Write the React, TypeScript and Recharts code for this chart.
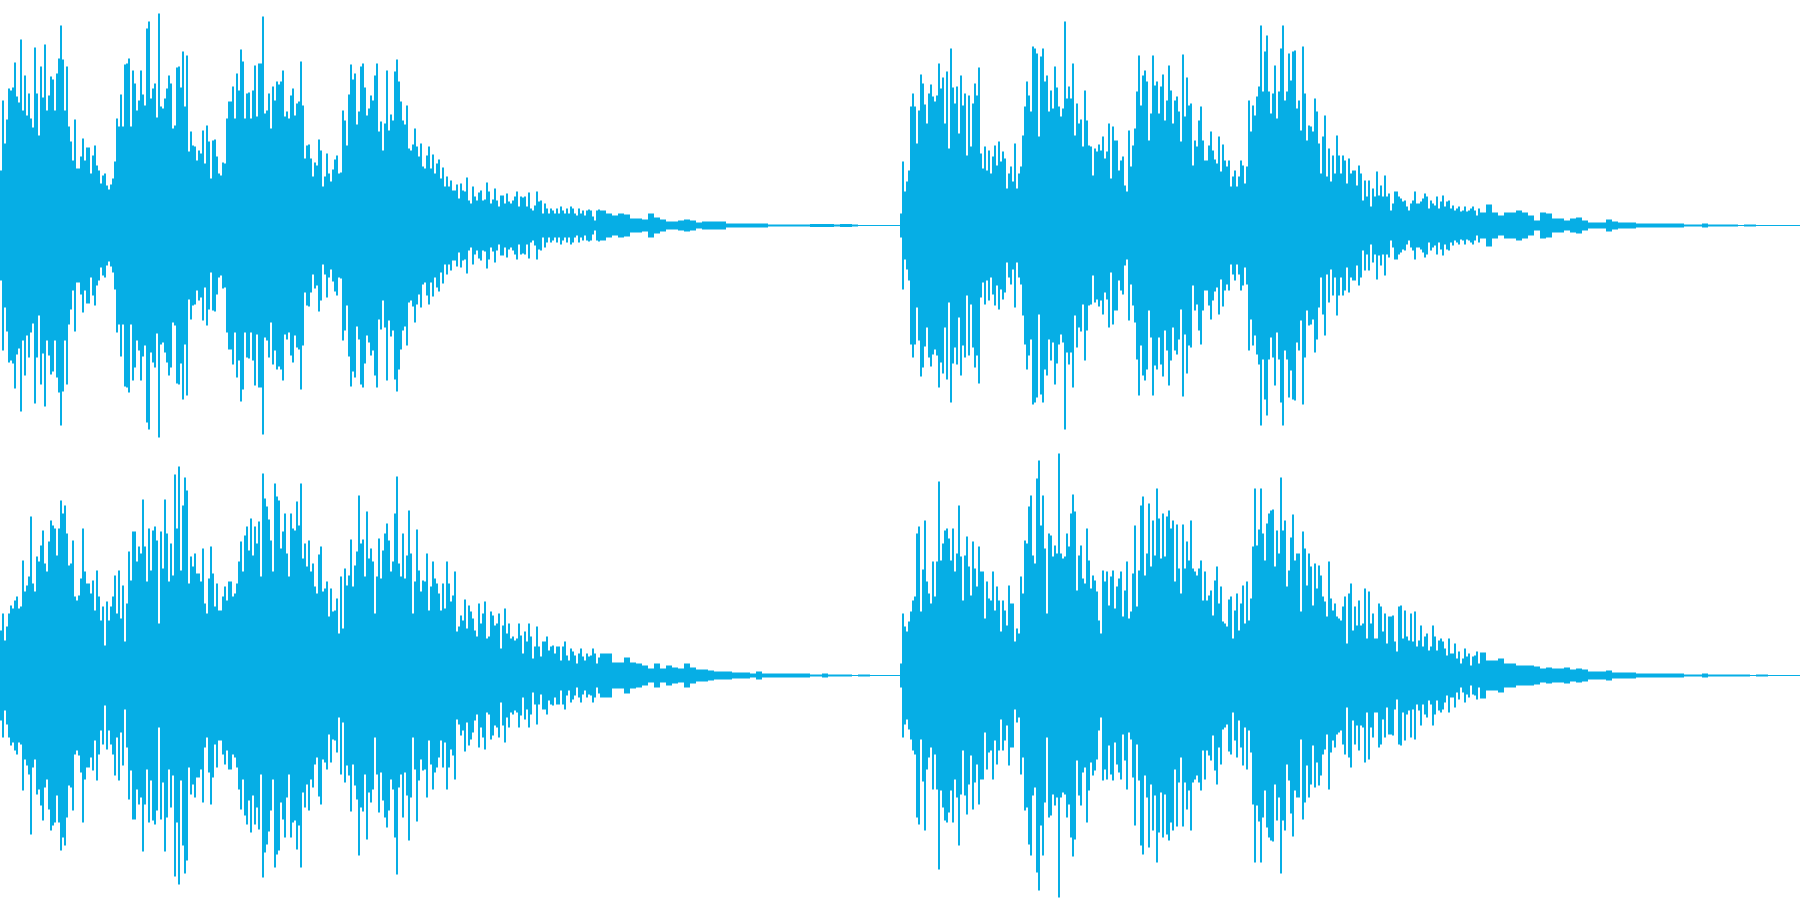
import React from "react";
import { BarChart, Bar, XAxis, YAxis } from "recharts";

const WAVE_COLOR = "#06aee5";

// Peak amplitude, one value per 2 px column.
const topLeftAttack = [55,125,82,106,137,135,138,163,129,123,186,115,150,110,132,107,98,178,132,90,159,128,181,115,130,149,146,115,152,167,200,166,115,159,99,84,65,106,57,57,69,87,65,78,78,52,70,80,60,55,42,50,52,40,36,41,47,64,107,99,131,99,161,162,167,99,155,142,115,125,155,131,120,197,204,127,137,142,108,212,119,117,127,137,150,142,97,100,158,159,138,174,119,170,74,94,80,79,65,75,72,95,62,100,84,47,85,86,69,52,50,63,62,107,124,124,139,107,152,135,176,164,107,132,133,107,135,160,109,162,162,209,112,115,132,97,139,125,144,141,144,155,109,114,107,130,137,110,122,124];
const topLeftDecay = [164,120,67,80,81,67,49,63,60,86,75,39,49,72,52,44,56,66,70,52,53,115,105,80,131,161,146,152,101,114,159,162,138,110,117,130,125,150,162,94,104,75,102,155,95,111,105,154,166,144,124,105,101,120,77,75,81,97,79,69,82,59,57,70,79,57,71,52,62,66,47,58,39,49,39,45,35,35,41,27,42,35,34,48,25,22,39,29,25,33,35,25,26,43,34,22,26,37,25,19,30,30,22,32,24,22,25,29,34,19,29,28,29,19,33,17,15,20,34,24,25,12,22,17,12,17,15,12,17,12,19,15,12,17,12,19,17,12,10,17,12,15,10,15,16,15,9,5,15,16];
const topLeftTail = [15,12,10,12,11,7,7,6,12,8,6,4,4,5,6,5,3,4,4,4,4,2,2,2,2,2,2,2,1,1,1,1,1,1,1,1.5,1.5,1.5,1.5,1,1.5,1.5,1,0.5,0.5,0.5,0.5,0.5,0.5,0.5];

const topRightAttack = [12,64,34,44,55,119,132,119,82,115,151,142,121,102,132,141,129,124,130,162,137,148,102,154,77,177,138,122,139,92,150,120,132,70,130,79,122,142,130,158,72,57,79,55,75,52,69,80,60,84,64,74,67,37,52,59,44,82,37,52,59,90,119,144,130,114,179,177,172,89,169,177,144,150,114,135,117,159,138,119,109,117,204,127,139,127,162,90,122,102,106,79,135,105,80,79,50,77,74,81,75,89,67,74,102,47,99,85,85,55,65,69,40,34,95,59,80,97,134,170,120,150,155,144,85,112,170,140,144,112,139,151,105,125,160,135,102,125,129,114];
const topRightDecay = [84,171,109,148,120,122,60,85,79,105,119,85,65,65,80,94,75,66,62,89,54,81,65,59,65,39,49,55,39,49,65,60,42,59,125,94,120,110,129,139,200,134,174,190,134,112,132,160,107,134,177,200,125,134,172,145,174,175,117,125,95,179,132,85,100,99,94,127,114,82,52,89,110,49,77,44,70,52,90,70,52,70,65,42,67,52,55,55,40,60,52,25,45,29,45,19,37,29,54,30,40,29,50,29,32,15,22,34,34,29,27,24,25,19,15,22,25,34,22,22,24,27,32,29,17,25,22,20,29,17,24,30,19,24,25,17,20,15,17,19,14,15,19,14,15,17,19,15,10,17];
const topRightTail = [13,21,13,10,13,13,15,13,10,5,13,12,7,7,5,7,8,5,3,3,3,6,4,3,3,3,2,2,2,2,2,2,2,2,1,1,1,2,1,1,1,1,1,0.5,1,1,0.5,0.5,0.5,0.5,0.5,0.5,0.5,0.5];

const bottomLeftAttack = [45,62,35,49,62,70,67,75,79,67,69,115,84,90,99,159,92,84,119,114,130,145,112,104,134,155,150,147,120,147,175,162,170,142,110,112,135,79,75,80,97,147,104,92,92,82,95,65,105,79,55,69,30,74,55,69,79,100,62,105,57,90,34,72,124,95,144,144,114,129,122,176,129,94,147,105,145,149,135,52,144,107,176,142,94,132,100,201,147,209,105,170,198,185,92,119,109,122,102,102,94,127,72,62,97,129,102,69,92,65,65,79,89,75,94,94,79,82,92,114,134,104,140,149,125,157,120,149,132,154,99,202,177,169,156,135,104,192,179,175,127,144,162,122,99,162,147,145,174,150];
const bottomLeftDecay = [192,117,132,109,135,104,112,89,82,121,129,84,87,94,59,87,64,65,77,42,99,47,107,90,100,136,89,110,124,180,132,136,99,164,117,127,114,62,99,137,97,125,142,152,135,104,114,162,199,112,99,142,97,120,165,122,62,94,146,105,84,95,94,122,65,89,114,97,92,82,65,92,67,114,92,74,80,104,44,49,60,55,76,47,70,64,57,45,39,72,52,62,74,37,39,64,60,50,52,62,27,50,67,42,52,37,39,35,37,52,40,22,44,34,52,39,17,29,49,29,19,34,34,39,25,29,30,22,29,29,15,29,34,20,15,27,24,20,12,22,27,19,15,22,19,20,27,22,12,18];
const bottomLeftTail = [22,22,13,13,18,13,12,10,7,12,7,10,8,7,12,8,6,6,5,4,4,4,3,3,3,2,4,2,2,2,2,2,2,2,2,1,1,2,1,1,1,1,0.5,1,1,0.5,0.5,0.5,0.5,0.5];

const bottomRightAttack = [12,62,49,44,54,64,75,79,142,149,64,106,155,94,82,72,114,79,114,194,115,132,145,147,137,115,147,104,122,170,119,75,120,139,109,80,134,107,89,129,104,104,57,94,77,75,104,65,89,75,44,75,65,50,90,72,72,34,47,42,99,82,135,132,169,180,120,112,197,215,150,180,127,62,142,140,119,130,122,222,122,117,119,142,129,162,181,164,85,120,130,97,92,147,115,87,100,95,84,55,42,105,94,104,70,99,105,67,89,97,104,59,85,114,57,64,102,150,69,105,170,179,100,122,172,109,155,120,187,157,117,162,119,159,165,147,155,94,151,107];
const bottomRightDecay = [82,151,107,134,115,155,107,104,100,107,115,75,104,75,80,85,60,95,109,72,89,54,52,49,76,79,37,65,82,45,72,90,52,94,55,77,129,187,130,146,187,142,115,152,162,165,166,109,145,122,198,145,155,89,105,138,161,115,122,122,64,144,127,90,122,109,70,112,87,110,100,79,74,59,114,77,65,72,59,57,55,69,79,32,82,92,45,69,50,75,50,52,87,37,84,52,62,37,37,72,69,44,62,32,59,59,60,34,24,69,70,37,65,39,35,62,34,64,29,35,50,29,39,42,25,29,50,39,25,35,37,34,27,20,37,22,22,32,17,24,12,17,27,19,22,10,19,20,24,12];
const bottomRightTail = [23,15,15,17,12,12,10,10,10,9,7,8,7,7,8,6,7,6,4,4,4,5,3,3,3,3,2,2,2,2,2,2,2,2,1,1,1,2,1,1,1,1,1,1,1,0.5,1,1,0.5,0.5,0.5,0.5,0.5,0.5];

const COLUMN_COUNT = 900;
const SILENCE = 0.5;

type Segment = [number, number, number[]];

// 900 columns of a band axis, each read from the segment covering its position.
const buildRow = (segments: Segment[]) => {
  const amps = new Array(COLUMN_COUNT).fill(SILENCE);
  segments.forEach(([startColumn, repeat, values]) => {
    values.forEach((amp, i) => {
      for (let k = 0; k < repeat; k++) {
        const column = startColumn + i * repeat + k;
        if (column < COLUMN_COUNT) amps[column] = amp;
      }
    });
  });
  return amps.map((amp, column) => ({ column, range: [-amp, amp] }));
};

const topRow = buildRow([
  [0, 1, topLeftAttack],
  [150, 1, topLeftDecay],
  [300, 3, topLeftTail],
  [450, 1, topRightAttack],
  [590, 1, topRightDecay],
  [740, 3, topRightTail],
]);

const bottomRow = buildRow([
  [0, 1, bottomLeftAttack],
  [150, 1, bottomLeftDecay],
  [300, 3, bottomLeftTail],
  [450, 1, bottomRightAttack],
  [590, 1, bottomRightDecay],
  [740, 3, bottomRightTail],
]);

const Row = ({ data }: { data: { column: number; range: number[] }[] }) => (
  <BarChart
    width={1800}
    height={450}
    data={data}
    margin={{ top: 0, right: 0, bottom: 0, left: 0 }}
    barCategoryGap={0}
    barGap={0}
    style={{ display: "block" }}
  >
    <XAxis dataKey="column" type="category" hide />
    <YAxis type="number" domain={[-224.5, 225.5]} hide />
    <Bar dataKey="range" fill={WAVE_COLOR} isAnimationActive={false} />
  </BarChart>
);

export default function App() {
  return (
    <div
      style={{
        position: "absolute",
        left: 0,
        top: 0,
        width: 1800,
        height: 900,
        background: "#ffffff",
      }}
    >
      <Row data={topRow} />
      <Row data={bottomRow} />
    </div>
  );
}
